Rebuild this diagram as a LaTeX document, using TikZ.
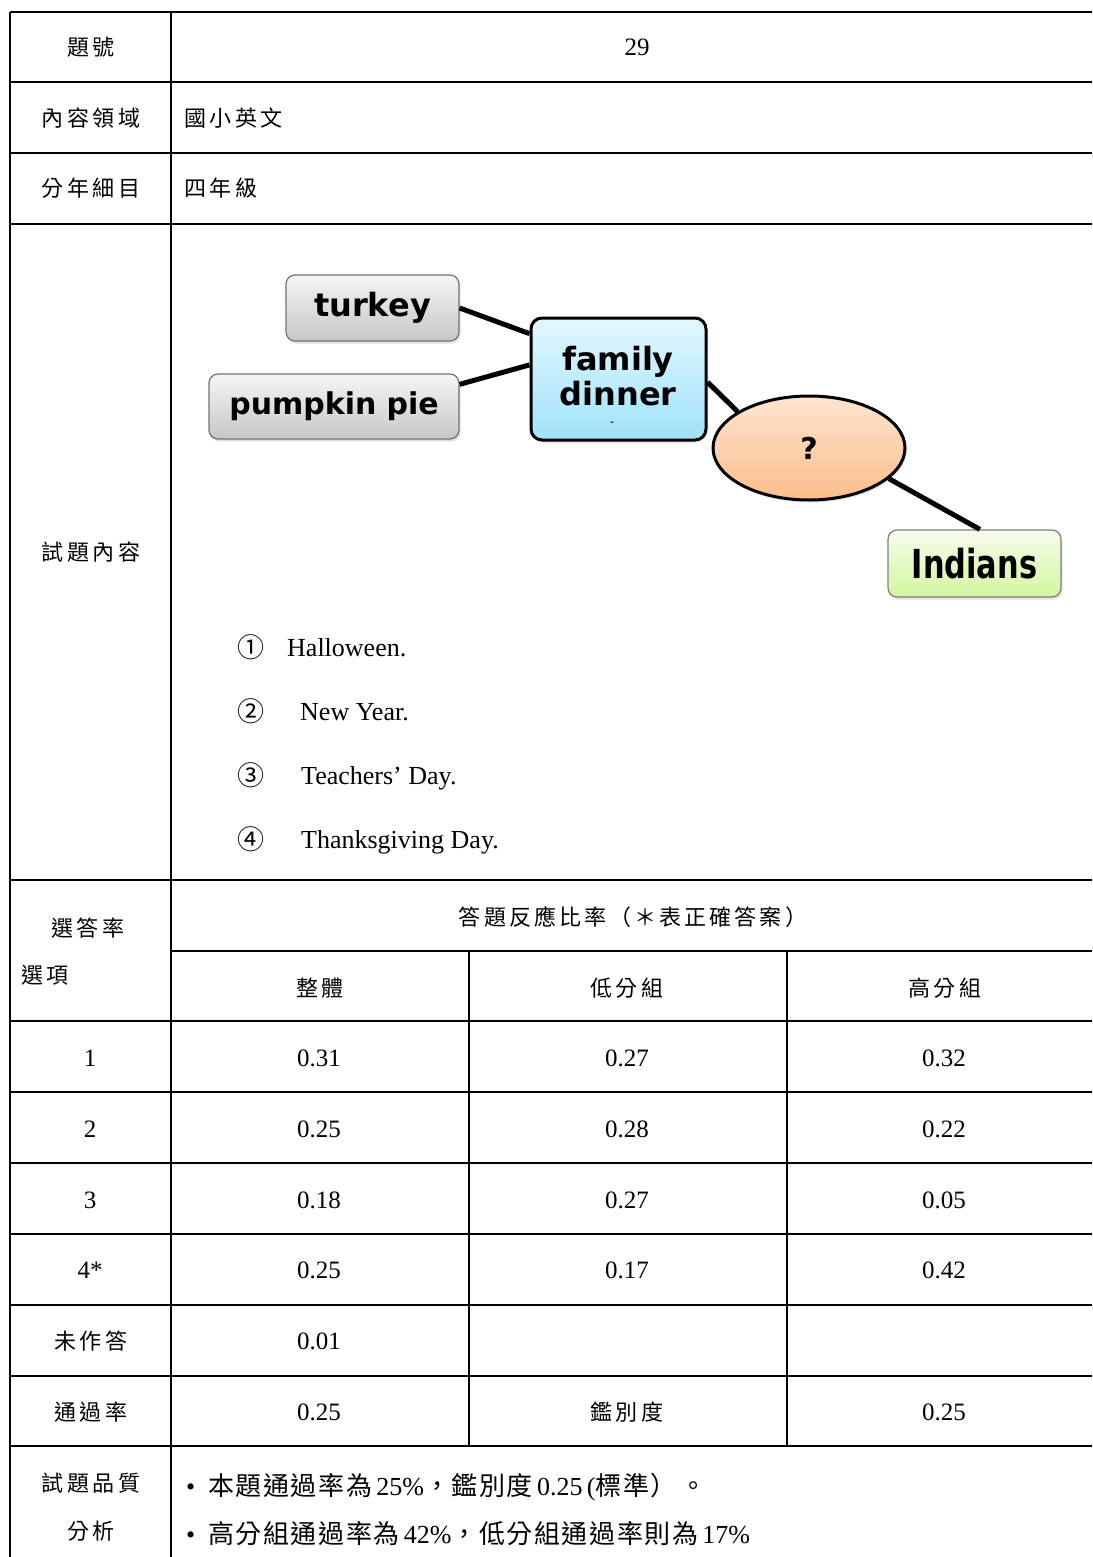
\documentclass[tikz,border=0pt]{standalone}
\usepackage{fontspec}
\setmainfont{Liberation Serif}
\newfontfamily\cjk{Noto Sans CJK TC}[LetterSpace=16]
\newfontfamily\cjkh{Noto Sans CJK TC}[LetterSpace=14]
\newfontfamily\cjkt{Noto Sans CJK TC}[LetterSpace=6]
\newfontfamily\cjkc{Noto Sans CJK TC}
\newfontfamily\comic{DejaVu Sans}
\usetikzlibrary{shapes.geometric,shadows}
\newcommand\twz[1]{{\cjkt #1}}
\begin{document}
\begin{tikzpicture}[x=1pt,y=-1pt,
  grid/.style={line width=2.4pt,black},
  lab/.style={font=\cjk\fontsize{22}{26}\selectfont, inner sep=0pt},
  circ/.style={font=\cjkc\fontsize{27}{27}\selectfont, inner sep=0pt},
  num/.style={font=\fontsize{25}{30}\selectfont, inner sep=0pt},
  opt/.style={font=\fontsize{26}{30}\selectfont, inner sep=0pt, anchor=base west},
  mapfont/.style={font=\comic\bfseries\fontsize{32}{38}\selectfont},
  mapbox/.style={rectangle, rounded corners=9pt, inner sep=0pt, mapfont,
    drop shadow={opacity=0.22,shadow xshift=1.5pt,shadow yshift=-2.5pt}},
  link/.style={line width=5pt, black}]
\useasboundingbox (0,0) rectangle (1092,1557);
\fill[white] (0,0) rectangle (1092,1557);

% ---------- table grid ----------
\foreach \yy in {12,82,153,224,880,1021,1092,1163,1234,1305,1376,1446}
  \draw[grid] (10,\yy) -- (1092,\yy);
\draw[grid] (171,951) -- (1092,951);
\draw[grid] (10,12) -- (10,1557);
\draw[grid] (171,12) -- (171,1557);
\draw[grid] (469,951) -- (469,1446);
\draw[grid] (787,951) -- (787,1446);

% ---------- header rows ----------
\node[lab] (h1) at (91,47) {題號};
\node[num] (v1) at (637,47) {29};
\node[lab] (h2) at (91,118) {內容領域};
\node[lab,anchor=west] (v2) at (184,118) {國小英文};
\node[lab] (h3) at (91,188) {分年細目};
\node[lab,anchor=west] (v3) at (184,188) {四年級};
\node[lab] (h4) at (91,552) {試題內容};

% ---------- concept map ----------
\node[mapbox, minimum width=173pt, minimum height=66pt, draw=black!55, line width=1.2pt,
  top color=black!4, bottom color=black!22] (turkey) at (372.5,308) {turkey};
\node[mapbox, minimum width=250pt, minimum height=65pt, draw=black!55, line width=1.2pt,
  top color=black!4, bottom color=black!22, font=\comic\bfseries\fontsize{30}{36}\selectfont]
  (pie) at (334,406.5) {pumpkin\,\,pie};
\node[mapbox, minimum width=175pt, minimum height=122pt, draw=black, line width=3pt,
  rounded corners=11pt, top color={rgb,255:red,226;green,247;blue,254},
  bottom color={rgb,255:red,160;green,226;blue,250}]
  (fd) at (618.5,379) {};
\node[mapfont, inner sep=0pt, align=center] (fdtext) at (618,376) {family\\[-3pt]dinner};
\node[font=\fontsize{12}{12}\selectfont, inner sep=0pt] (fddash) at (612,424) {-};
\node[ellipse, minimum width=192pt, minimum height=104pt, inner sep=0pt, draw=black, line width=3pt,
  top color={rgb,255:red,254;green,228;blue,208}, bottom color={rgb,255:red,251;green,190;blue,138},
  font=\comic\bfseries\fontsize{30}{36}\selectfont,
  drop shadow={opacity=0.22,shadow xshift=1.5pt,shadow yshift=-2.5pt}]
  (q) at (809,448) {?};
\node[mapbox, minimum width=173pt, minimum height=67pt, draw=black!50, line width=1.2pt,
  top color={rgb,255:red,247;green,253;blue,236}, bottom color={rgb,255:red,210;green,245;blue,158}]
  (ind) at (974.5,563.5) {\scalebox{0.95}[1.25]{Indians}};

\draw[link] (turkey.east) -- (fd.153);
\draw[link] (pie.10.6) -- (fd.171);
\draw[link] (fd.-2.6) -- (q.153);
\draw[link] (q.-21) -- (ind.81);

% ---------- options ----------
\node[circ] (c1) at (251,647) {①};
\node[opt] (o1) at (287,656) {Halloween.};
\node[circ] (c2) at (251,711) {②};
\node[opt] (o2) at (300,720) {New Year.};
\node[circ] (c3) at (251,775) {③};
\node[opt] (o3) at (301,784) {Teachers’ Day.};
\node[circ] (c4) at (251,839) {④};
\node[opt] (o4) at (301,848) {Thanksgiving Day.};

% ---------- response table ----------
\node[lab] (sel1) at (88,928) {選答率};
\node[lab,anchor=west] (sel2) at (21,975) {選項};
\node[font=\cjkh\fontsize{22}{26}\selectfont, inner sep=0pt] (hdr) at (633,917) {答題反應比率（＊表正確答案）};
\node[lab] (g1) at (320,988) {整體};
\node[lab] (g2) at (627,988) {低分組};
\node[lab] (g3) at (945,988) {高分組};

\node[num] (r1) at (90,1058) {1};
\node[num] (r1a) at (319,1058) {0.31};
\node[num] (r1b) at (627,1058) {0.27};
\node[num] (r1c) at (944,1058) {0.32};
\node[num] (r2) at (90,1129) {2};
\node[num] (r2a) at (319,1129) {0.25};
\node[num] (r2b) at (627,1129) {0.28};
\node[num] (r2c) at (944,1129) {0.22};
\node[num] (r3) at (90,1200) {3};
\node[num] (r3a) at (319,1200) {0.18};
\node[num] (r3b) at (627,1200) {0.27};
\node[num] (r3c) at (944,1200) {0.05};
\node[num] (r4) at (90,1270) {4*};
\node[num] (r4a) at (319,1270) {0.25};
\node[num] (r4b) at (627,1270) {0.17};
\node[num] (r4c) at (944,1270) {0.42};
\node[lab] (r5) at (91,1341) {未作答};
\node[num] (r5a) at (319,1341) {0.01};
\node[lab] (r6) at (91,1412) {通過率};
\node[num] (r6a) at (319,1412) {0.25};
\node[lab] (r6b) at (627,1412) {鑑別度};
\node[num] (r6c) at (944,1412) {0.25};

% ---------- quality analysis ----------
\node[lab] (qa1) at (91,1483) {試題品質};
\node[lab] (qa2) at (91,1531) {分析};
\node[font=\fontsize{26}{30}\selectfont, inner sep=0pt, anchor=west] (b1) at (186,1487)
  {•\hspace{13pt}\twz{本題通過率為}\,25\%\twz{，鑑別度}\,0.25\,(\twz{標準）}\hspace{4pt}\twz{。}};
\node[font=\fontsize{26}{30}\selectfont, inner sep=0pt, anchor=west] (b2) at (186,1534)
  {•\hspace{13pt}\twz{高分組通過率為}\,42\%\twz{，低分組通過率則為}\,17\%};
\end{tikzpicture}
\end{document}
